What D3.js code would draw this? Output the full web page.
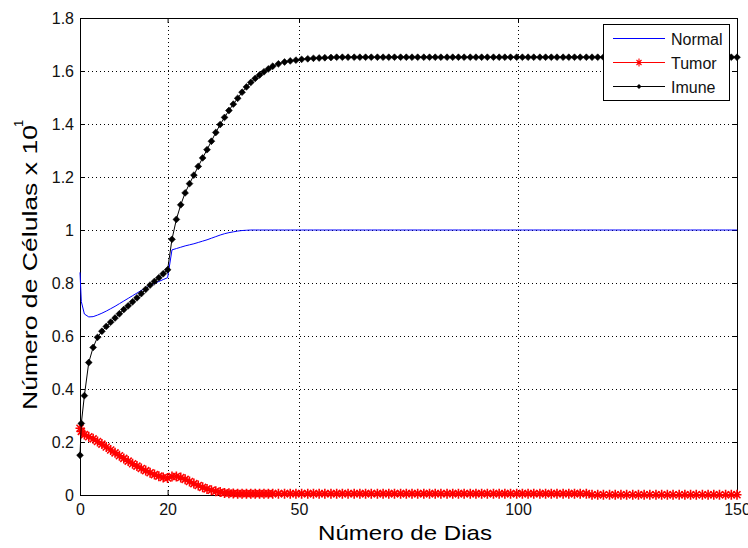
<!DOCTYPE html>
<html>
<head>
<meta charset="utf-8">
<script src="https://cdnjs.cloudflare.com/ajax/libs/d3/7.8.5/d3.min.js"></script>
<style>
    body { margin: 0; background: #fff; }
    text { font-family: "Liberation Sans", Arial, sans-serif; }
</style>
</head>
<body>
<div id="graphic"></div>
<script>

var dias = [0, 0.3, 1, 2, 3, 4, 5, 6, 7, 8, 9, 10, 11, 12, 13, 14, 15, 16, 17, 18, 19, 20,
    21, 22, 23, 24, 25, 26, 27, 28, 29, 30, 31, 32, 33, 34, 35, 36, 37, 38, 39, 40, 41, 42, 43, 44,
    45.3, 46.7, 48.0, 49.3, 50.6, 52.0, 53.3, 54.6, 55.9, 57.3,
    58.6, 59.9, 61.2, 62.6, 63.9, 65.2, 66.5, 67.9, 69.2, 70.5,
    71.8, 73.2, 74.5, 75.8, 77.1, 78.5, 79.8, 81.1, 82.4, 83.8,
    85.1, 86.4, 87.7, 89.1, 90.4, 91.7, 93.0, 94.4, 95.7, 97.0,
    98.3, 99.7, 101.0, 102.3, 103.6, 105.0, 106.3, 107.6, 108.9, 110.3,
    111.6, 112.9, 114.2, 115.6, 116.9, 118.2, 119.5, 120.9, 122.2, 123.5,
    124.8, 126.2, 127.5, 128.8, 130.1, 131.5, 132.8, 134.1, 135.4, 136.8,
    138.1, 139.4, 140.7, 142.1, 143.4, 144.7, 146.0, 147.4, 148.7, 150.0];

var normal = [0.84, 0.73, 0.683, 0.672, 0.673, 0.679, 0.686, 0.694, 0.703, 0.712, 0.722, 0.732,
    0.742, 0.752, 0.762, 0.772, 0.781, 0.79, 0.798, 0.806, 0.813, 0.82,
    0.925, 0.93, 0.935, 0.94, 0.944, 0.948, 0.953, 0.958, 0.963, 0.969, 0.975, 0.981, 0.986, 0.99,
    0.993, 0.996, 0.998, 0.999, 1, 1, 1, 1, 1, 1,
    1, 1, 1, 1, 1, 1, 1, 1, 1, 1,
    1, 1, 1, 1, 1, 1, 1, 1, 1, 1,
    1, 1, 1, 1, 1, 1, 1, 1, 1, 1,
    1, 1, 1, 1, 1, 1, 1, 1, 1, 1,
    1, 1, 1, 1, 1, 1, 1, 1, 1, 1,
    1, 1, 1, 1, 1, 1, 1, 1, 1, 1,
    1, 1, 1, 1, 1, 1, 1, 1, 1, 1,
    1, 1, 1, 1, 1, 1, 1, 1, 1, 1];

var tumor = [0.252, 0.24, 0.228, 0.22, 0.212, 0.202, 0.192, 0.181, 0.17, 0.159, 0.148, 0.138,
    0.128, 0.118, 0.109, 0.1, 0.092, 0.084, 0.077, 0.071, 0.066, 0.064,
    0.07, 0.07, 0.066, 0.059, 0.051, 0.043, 0.036, 0.029, 0.023, 0.018, 0.014, 0.011, 0.008, 0.007,
    0.006, 0.005, 0.005, 0.005, 0.005, 0.005, 0.005, 0.005, 0.005, 0.005,
    0.005, 0.005, 0.005, 0.005, 0.005, 0.005, 0.005, 0.005, 0.005, 0.005,
    0.005, 0.005, 0.005, 0.005, 0.005, 0.005, 0.005, 0.005, 0.005, 0.005,
    0.005, 0.005, 0.005, 0.005, 0.005, 0.005, 0.005, 0.005, 0.005, 0.005,
    0.005, 0.005, 0.005, 0.005, 0.005, 0.005, 0.005, 0.005, 0.005, 0.005,
    0.005, 0.005, 0.005, 0.005, 0.005, 0.005, 0.005, 0.005, 0.005, 0.005,
    0.005, 0.005, 0.005, 0.005, 0.001, 0.001, 0.001, 0.001, 0.001, 0.001,
    0.001, 0.001, 0.001, 0.001, 0.001, 0.001, 0.001, 0.001, 0.001, 0.001,
    0.001, 0.001, 0.001, 0.001, 0.001, 0.001, 0.001, 0.001, 0.001, 0.001];

var imune = [0.15, 0.27, 0.375, 0.5, 0.557, 0.595, 0.618, 0.636, 0.652, 0.668, 0.684, 0.7,
    0.714, 0.729, 0.744, 0.76, 0.776, 0.792, 0.806, 0.82, 0.835, 0.85,
    0.965, 1.04, 1.095, 1.14, 1.175, 1.207, 1.24, 1.272, 1.303, 1.335, 1.368, 1.398, 1.425, 1.451,
    1.475, 1.497, 1.52, 1.54, 1.557, 1.572, 1.585, 1.597, 1.608, 1.618,
    1.627, 1.634, 1.638, 1.641, 1.644, 1.646, 1.648, 1.649, 1.65, 1.651,
    1.652, 1.652, 1.652, 1.652, 1.652, 1.652, 1.652, 1.652, 1.652, 1.652,
    1.652, 1.652, 1.652, 1.652, 1.652, 1.652, 1.652, 1.652, 1.652, 1.652,
    1.652, 1.652, 1.652, 1.652, 1.652, 1.652, 1.652, 1.652, 1.652, 1.652,
    1.652, 1.652, 1.652, 1.652, 1.652, 1.652, 1.652, 1.652, 1.652, 1.652,
    1.652, 1.652, 1.652, 1.652, 1.652, 1.652, 1.652, 1.652, 1.652, 1.652,
    1.652, 1.652, 1.652, 1.652, 1.652, 1.652, 1.652, 1.652, 1.652, 1.652,
    1.652, 1.652, 1.652, 1.652, 1.652, 1.652, 1.652, 1.652, 1.652, 1.652];

var x_ticks = [0, 20, 50, 100, 150];
var y_ticks = [0, 0.2, 0.4, 0.6, 0.8, 1, 1.2, 1.4, 1.6, 1.8];
var legend_names = ["Normal", "Tumor", "Imune"];

var left = 80, right = 737, top_ = 18, bottom = 495;

var x = d3.scaleLinear().domain([0, 150]).range([left, right]);
var y = d3.scaleLinear().domain([0, 1.8]).range([bottom, top_]);

var svg = d3.select("#graphic").append("svg")
        .attr("width", 748)
        .attr("height", 548);

svg.append("rect")
        .attr("width", 748)
        .attr("height", 548)
        .attr("fill", "white");

/* grid */
var grid = svg.append("g").attr("stroke", "black").attr("stroke-width", 1)
        .attr("stroke-dasharray", "1,3").attr("shape-rendering", "crispEdges");

grid.selectAll("line.gx")
        .data(x_ticks.slice(1, -1))
        .enter().append("line")
        .attr("x1", function (d) { return Math.round(x(d)) + 0.5; })
        .attr("x2", function (d) { return Math.round(x(d)) + 0.5; })
        .attr("y1", top_)
        .attr("y2", bottom);

grid.selectAll("line.gy")
        .data(y_ticks.slice(1, -1))
        .enter().append("line")
        .attr("y1", function (d) { return Math.round(y(d)) + 0.5; })
        .attr("y2", function (d) { return Math.round(y(d)) + 0.5; })
        .attr("x1", left)
        .attr("x2", right);

/* axes, ticks pointing inward like matlab */
function style_axis(g) {
    g.select(".domain").remove();
    g.selectAll("line").attr("stroke", "black");
    g.selectAll("text")
            .attr("font-family", "Liberation Sans, Arial, sans-serif")
            .attr("font-size", "16px")
            .attr("fill", "#111");
}

svg.append("g")
        .attr("transform", "translate(0," + bottom + ")")
        .call(d3.axisBottom(x).tickValues(x_ticks).tickSize(-5).tickPadding(8.6)
                .tickFormat(d3.format("d")))
        .call(style_axis);

svg.append("g")
        .attr("transform", "translate(0," + top_ + ")")
        .call(d3.axisTop(x).tickValues(x_ticks).tickSize(-5).tickFormat(""))
        .call(style_axis);

svg.append("g")
        .attr("transform", "translate(" + left + ",0)")
        .call(d3.axisLeft(y).tickValues(y_ticks).tickSize(-5).tickPadding(6)
                .tickFormat(function (d) { return d === 0 ? "0" : d3.format("~g")(d); }))
        .call(style_axis);

svg.append("g")
        .attr("transform", "translate(" + right + ",0)")
        .call(d3.axisRight(y).tickValues(y_ticks).tickSize(-5).tickFormat(""))
        .call(style_axis);

svg.append("rect")
        .attr("x", left + 0.5)
        .attr("y", top_ + 0.5)
        .attr("width", right - left)
        .attr("height", bottom - top_)
        .attr("fill", "none")
        .attr("stroke", "black")
        .attr("shape-rendering", "crispEdges");

/* series */
var line = d3.line()
        .x(function (d) { return x(d.t); })
        .y(function (d) { return y(d.v); });

function pts(vals) {
    return dias.map(function (t, i) { return {t: t, v: vals[i]}; });
}

var asterisk = "M0,-5L0,5M-4.5,0L4.5,0M-3.5,-3.5L3.5,3.5M-3.5,3.5L3.5,-3.5";
var diamond = "M0,-3.4L3.4,0L0,3.4L-3.4,0Z";

svg.append("path")
        .attr("d", line(pts(normal)))
        .attr("fill", "none")
        .attr("stroke", "#0000ff")
        .attr("stroke-width", 1);

svg.append("path")
        .attr("d", line(pts(tumor)))
        .attr("fill", "none")
        .attr("stroke", "#ff0000")
        .attr("stroke-width", 1.5);

svg.append("g").selectAll("path")
        .data(pts(tumor))
        .enter().append("path")
        .attr("transform", function (d) { return "translate(" + x(d.t) + "," + y(d.v) + ")"; })
        .attr("d", asterisk)
        .attr("stroke", "#ff0000")
        .attr("stroke-width", 1.6);

svg.append("path")
        .attr("d", line(pts(imune)))
        .attr("fill", "none")
        .attr("stroke", "black")
        .attr("stroke-width", 1);

svg.append("g").selectAll("path")
        .data(pts(imune))
        .enter().append("path")
        .attr("transform", function (d) { return "translate(" + x(d.t) + "," + y(d.v) + ")"; })
        .attr("d", diamond)
        .attr("fill", "black")
        .attr("stroke", "black")
        .attr("stroke-width", 0.6);

/* labels */
svg.append("text")
        .attr("x", 318)
        .attr("y", 540)
        .attr("font-size", "21px")
        .attr("textLength", 174)
        .attr("lengthAdjust", "spacingAndGlyphs")
        .text("Número de Dias");

var ylab = svg.append("g").attr("transform", "translate(37.3,410) rotate(-90)");
ylab.append("text")
        .attr("x", 0)
        .attr("y", 0)
        .attr("font-size", "20.5px")
        .attr("textLength", 285)
        .attr("lengthAdjust", "spacingAndGlyphs")
        .text("Número de Células x 10");
ylab.append("text")
        .attr("x", 283)
        .attr("y", -14)
        .attr("font-size", "13px")
        .text("1");

/* legend */
var leg = svg.append("g");
leg.append("rect")
        .attr("x", 603.5)
        .attr("y", 24.5)
        .attr("width", 126)
        .attr("height", 76)
        .attr("fill", "white")
        .attr("stroke", "black")
        .attr("shape-rendering", "crispEdges");

var leg_colors = ["#0000ff", "#ff0000", "black"];
var rows = leg.selectAll("g.row")
        .data(legend_names)
        .enter().append("g")
        .attr("transform", function (d, i) { return "translate(0," + (38.5 + i * 24) + ")"; });

rows.append("line")
        .attr("x1", 613)
        .attr("x2", 665)
        .attr("stroke", function (d, i) { return leg_colors[i]; });

rows.append("text")
        .attr("x", 671)
        .attr("y", 6.7)
        .attr("font-size", "16px")
        .attr("fill", "#111")
        .text(function (d) { return d; });

rows.filter(function (d, i) { return i === 1; }).append("path")
        .attr("transform", "translate(639,0)")
        .attr("d", "M0,-4L0,4M-3,0L3,0M-2.5,-2.5L2.5,2.5M-2.5,2.5L2.5,-2.5")
        .attr("stroke", "#ff0000")
        .attr("stroke-width", 1.1);

rows.filter(function (d, i) { return i === 2; }).append("path")
        .attr("transform", "translate(639,0)")
        .attr("d", "M0,-2.5L2.5,0L0,2.5L-2.5,0Z")
        .attr("fill", "black");

</script>
</body>
</html>
